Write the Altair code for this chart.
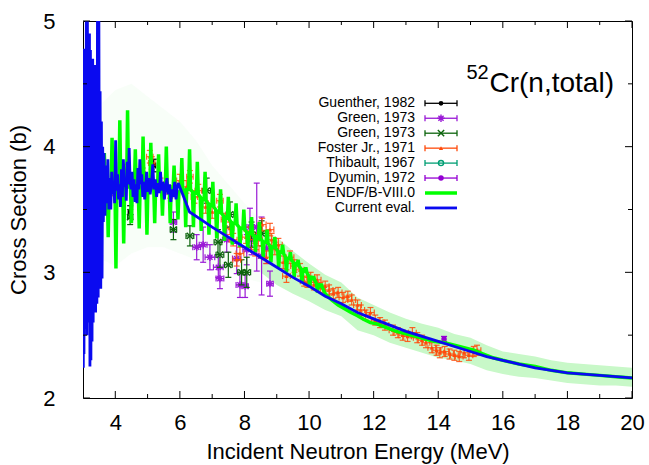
import altair as alt
import pandas as pd

# ---------------- data ----------------
# Current evaluation: fluctuating structure below 6 MeV, smooth above
current_eval = [
    (3.000, 3.60), (3.010, 2.24), (3.020, 4.78), (3.030, 2.35), (3.045, 4.50),
    (3.060, 2.55), (3.075, 4.20), (3.090, 2.70), (3.105, 5.40), (3.120, 2.50),
    (3.135, 5.30), (3.150, 2.90), (3.165, 4.30), (3.180, 2.60), (3.200, 4.90),
    (3.215, 2.25), (3.230, 4.77), (3.245, 2.30), (3.260, 4.55), (3.280, 2.45),
    (3.300, 4.70), (3.315, 2.60), (3.330, 4.00), (3.350, 2.70), (3.370, 4.65),
    (3.390, 2.68), (3.410, 4.40), (3.430, 2.75), (3.450, 5.30), (3.470, 2.80),
    (3.490, 5.20), (3.510, 2.95), (3.530, 4.44), (3.550, 2.87), (3.570, 4.20),
    (3.590, 2.95), (3.610, 4.00), (3.630, 3.40),
    (3.65, 3.95), (3.68, 3.45), (3.71, 3.85), (3.74, 3.55), (3.77, 3.90),
    (3.80, 3.50), (3.83, 3.75), (3.86, 3.50), (3.89, 3.80), (3.92, 3.62),
    (3.95, 3.72), (3.98, 3.55), (4.01, 4.05), (4.04, 3.65), (4.07, 3.78),
    (4.10, 3.58), (4.13, 3.70), (4.16, 3.52), (4.19, 3.82), (4.22, 3.60),
    (4.25, 3.90), (4.28, 3.68), (4.31, 3.75), (4.34, 3.57), (4.37, 3.88),
    (4.40, 3.70), (4.43, 3.99), (4.46, 3.72), (4.49, 3.66), (4.52, 3.80),
    (4.55, 3.60), (4.58, 3.74), (4.61, 3.56), (4.64, 3.70), (4.67, 3.55),
    (4.70, 3.83), (4.73, 3.66), (4.76, 3.90), (4.79, 3.70), (4.82, 3.78),
    (4.85, 3.60), (4.88, 3.72), (4.91, 3.58), (4.94, 3.68), (4.97, 3.80),
    (5.00, 3.64), (5.04, 3.75), (5.08, 3.62), (5.12, 3.70), (5.16, 3.86),
    (5.20, 3.66), (5.24, 3.74), (5.28, 3.60), (5.32, 3.71), (5.36, 3.63),
    (5.40, 3.80), (5.44, 3.65), (5.48, 3.72), (5.52, 3.58), (5.56, 3.68),
    (5.60, 3.75), (5.64, 3.62), (5.68, 3.70), (5.72, 3.56), (5.76, 3.66),
    (5.80, 3.60), (5.84, 3.72), (5.88, 3.58), (5.92, 3.68), (5.95, 3.71),
    (6.30, 3.48), (6.60, 3.43), (7.00, 3.36), (7.50, 3.28), (8.00, 3.20),
    (8.50, 3.12), (9.00, 3.04), (9.50, 2.96), (10.0, 2.89), (10.5, 2.81),
    (11.0, 2.75), (11.5, 2.68), (12.0, 2.63), (12.5, 2.58), (13.0, 2.53),
    (13.5, 2.49), (14.0, 2.45), (14.5, 2.41), (15.0, 2.37), (15.5, 2.33),
    (16.0, 2.30), (16.5, 2.27), (17.0, 2.24), (17.5, 2.22), (18.0, 2.20),
    (18.5, 2.19), (19.0, 2.18), (19.5, 2.17), (20.0, 2.16),
]

# ENDF/B-VIII.0 cross section (sharp structure up to ~10.5 MeV)
endf_eval = [
    (3.60, 3.68),
    (3.63, 3.68), (3.66, 3.95), (3.69, 3.68), (3.75, 3.68), (3.78, 3.28), (3.81, 3.68),
    (3.87, 3.68), (3.90, 4.07), (3.93, 3.68), (3.99, 3.68), (4.02, 3.03), (4.05, 3.68),
    (4.11, 3.68), (4.14, 4.21), (4.17, 3.68), (4.23, 3.68), (4.26, 3.23), (4.29, 3.68),
    (4.35, 3.68), (4.38, 4.29), (4.41, 3.68), (4.47, 3.68), (4.50, 3.39), (4.53, 3.68),
    (4.59, 3.68), (4.62, 3.98), (4.65, 3.68), (4.71, 3.68), (4.74, 3.35), (4.77, 3.68),
    (4.83, 3.68), (4.86, 4.08), (4.89, 3.68), (4.95, 3.68), (4.98, 3.30), (5.01, 3.68),
    (5.07, 3.68), (5.10, 4.03), (5.13, 3.68), (5.19, 3.68), (5.22, 3.39), (5.25, 3.68),
    (5.31, 3.68), (5.34, 3.94), (5.37, 3.68), (5.43, 3.68), (5.46, 3.45), (5.49, 3.68),
    (5.55, 3.68), (5.58, 4.00), (5.61, 3.68), (5.67, 3.68), (5.70, 3.39), (5.73, 3.68),
    (5.79, 3.66), (5.82, 3.85), (5.85, 3.66), (5.91, 3.64), (5.94, 3.42), (5.97, 3.64),
    (6.03, 3.65), (6.06, 3.91), (6.09, 3.65), (6.15, 3.66), (6.18, 3.36), (6.21, 3.66),
    (6.27, 3.66), (6.30, 3.98), (6.33, 3.66), (6.39, 3.64), (6.42, 3.36), (6.45, 3.64),
    (6.51, 3.62), (6.54, 3.88), (6.57, 3.62), (6.63, 3.60), (6.66, 3.33), (6.69, 3.60),
    (6.75, 3.57), (6.78, 3.80), (6.81, 3.57), (6.87, 3.55), (6.90, 3.30), (6.93, 3.55),
    (6.99, 3.52), (7.02, 3.72), (7.05, 3.52), (7.11, 3.50), (7.14, 3.27), (7.17, 3.50),
    (7.23, 3.47), (7.26, 3.66), (7.29, 3.47), (7.35, 3.45), (7.38, 3.25), (7.41, 3.45),
    (7.47, 3.42), (7.50, 3.60), (7.53, 3.42), (7.59, 3.40), (7.62, 3.22), (7.65, 3.40),
    (7.71, 3.38), (7.74, 3.55), (7.77, 3.38), (7.83, 3.36), (7.86, 3.20), (7.89, 3.36),
    (7.95, 3.34), (7.98, 3.50), (8.01, 3.34), (8.07, 3.32), (8.10, 3.18), (8.13, 3.32),
    (8.19, 3.30), (8.22, 3.44), (8.25, 3.30), (8.31, 3.28), (8.34, 3.16), (8.37, 3.28),
    (8.43, 3.27), (8.46, 3.40), (8.49, 3.27), (8.55, 3.25), (8.58, 3.12), (8.61, 3.25),
    (8.67, 3.23), (8.70, 3.34), (8.73, 3.23), (8.79, 3.21), (8.82, 3.08), (8.85, 3.21),
    (8.91, 3.19), (8.94, 3.28), (8.97, 3.19), (9.03, 3.17), (9.06, 3.04), (9.09, 3.17),
    (9.15, 3.15), (9.18, 3.22), (9.21, 3.15), (9.27, 3.12), (9.30, 3.00), (9.33, 3.12),
    (9.39, 3.10), (9.42, 3.16), (9.45, 3.10), (9.51, 3.08), (9.54, 2.96), (9.57, 3.08),
    (9.63, 3.05), (9.66, 3.10), (9.69, 3.05), (9.75, 3.03), (9.78, 2.92), (9.81, 3.03),
    (9.87, 3.00), (9.90, 3.04), (9.93, 3.00), (9.99, 2.97), (10.02, 2.88), (10.05, 2.97),
    (10.11, 2.94), (10.14, 2.97), (10.17, 2.94), (10.23, 2.91), (10.26, 2.84), (10.29, 2.91),
    (10.35, 2.88), (10.38, 2.91), (10.41, 2.88),
    (10.50, 2.83), (10.70, 2.78), (10.90, 2.74), (11.10, 2.71), (11.30, 2.68),
    (11.50, 2.655), (11.70, 2.625), (11.90, 2.60), (12.10, 2.59), (12.40, 2.56),
    (12.70, 2.53), (13.00, 2.51), (13.30, 2.49), (13.60, 2.47), (13.90, 2.45),
    (14.20, 2.44), (14.50, 2.42), (14.80, 2.40), (15.10, 2.38), (15.40, 2.35),
    (15.70, 2.32), (16.00, 2.30), (16.50, 2.27), (17.00, 2.25), (17.50, 2.22),
    (18.00, 2.20), (18.50, 2.19), (19.00, 2.18), (19.50, 2.17), (20.00, 2.16),
]

# ENDF/B-VIII.0 uncertainty band (energy, lower, upper)
endf_band_low_e = [
    (3.6, 3.10, 4.35), (4.0, 3.05, 4.45), (4.5, 3.15, 4.50), (5.0, 3.20, 4.40),
    (5.5, 3.20, 4.30), (6.0, 3.15, 4.20), (6.5, 3.10, 4.05), (7.0, 3.05, 3.85),
    (7.5, 3.00, 3.70), (8.0, 2.95, 3.55), (8.5, 2.92, 3.42),
]
endf_band = [
    (8.5, 3.00, 3.36), (9.0, 2.90, 3.28), (9.5, 2.83, 3.17),
    (10.0, 2.77, 3.07), (10.5, 2.70, 2.98), (11.0, 2.65, 2.92), (11.5, 2.54, 2.80),
    (12.0, 2.50, 2.74), (12.5, 2.44, 2.68), (13.0, 2.40, 2.63), (13.5, 2.36, 2.59),
    (14.0, 2.32, 2.56), (14.5, 2.30, 2.51), (15.0, 2.27, 2.48), (15.5, 2.22, 2.42),
    (16.0, 2.19, 2.37), (16.5, 2.17, 2.35), (17.0, 2.16, 2.33), (17.5, 2.14, 2.30),
    (18.0, 2.12, 2.28), (18.5, 2.11, 2.27), (19.0, 2.10, 2.26), (19.5, 2.10, 2.25),
    (20.0, 2.09, 2.24),
]

# Measurements (energy, cross section, d energy, d cross section)
guenther_1982 = [
    (3.00, 3.61, 0.03, 0.03), (3.20, 3.58, 0.03, 0.03), (3.50, 3.66, 0.03, 0.03),
    (4.46, 3.48, 0.06, 0.05), (5.19, 3.85, 0.06, 0.05),
]
green_1973_a = [
    (3.00, 3.67, 0.05, 0.04), (5.80, 3.40, 0.10, 0.08), (6.52, 3.20, 0.12, 0.10),
    (6.72, 3.22, 0.12, 0.14), (6.93, 3.12, 0.15, 0.10), (7.19, 3.04, 0.15, 0.08),
    (7.24, 2.95, 0.12, 0.08), (7.45, 3.26, 0.13, 0.10), (7.76, 3.11, 0.13, 0.12),
    (7.86, 2.90, 0.12, 0.10), (8.02, 2.89, 0.10, 0.09), (8.07, 3.18, 0.12, 0.12),
    (8.17, 3.36, 0.12, 0.15), (8.22, 3.26, 0.10, 0.12), (8.38, 3.36, 0.10, 0.35),
    (8.53, 3.13, 0.10, 0.31), (8.68, 3.19, 0.10, 0.12), (8.79, 2.91, 0.10, 0.10),
]
green_1973_b = [
    (4.46, 3.44, 0.08, 0.06), (5.80, 3.34, 0.10, 0.08), (6.31, 3.29, 0.12, 0.08),
    (6.83, 3.65, 0.12, 0.10), (7.18, 3.24, 0.12, 0.10), (7.24, 3.14, 0.12, 0.10),
    (7.50, 3.06, 0.12, 0.10), (7.55, 3.46, 0.12, 0.10), (7.91, 3.00, 0.12, 0.10),
    (8.07, 3.00, 0.12, 0.12), (8.22, 3.30, 0.12, 0.10), (8.53, 3.31, 0.12, 0.10),
]
foster_1971 = [
    (3.00, 3.56, 0.05, 0.04), (3.62, 3.88, 0.08, 0.05), (3.95, 3.66, 0.08, 0.05),
    (4.24, 3.81, 0.08, 0.05), (4.55, 3.72, 0.08, 0.05), (4.85, 3.78, 0.08, 0.05),
    (5.07, 3.92, 0.10, 0.05), (5.13, 3.87, 0.10, 0.05), (5.40, 3.70, 0.10, 0.05),
    (5.70, 3.64, 0.10, 0.05), (6.00, 3.73, 0.10, 0.05), (6.20, 3.68, 0.10, 0.05),
    (6.31, 3.76, 0.10, 0.05), (6.45, 3.60, 0.10, 0.05), (6.57, 3.65, 0.10, 0.05),
    (6.80, 3.52, 0.10, 0.05), (7.00, 3.48, 0.10, 0.05), (7.24, 3.57, 0.10, 0.05),
    (7.40, 3.42, 0.12, 0.05), (7.55, 3.35, 0.12, 0.05), (7.65, 3.26, 0.12, 0.05),
    (7.76, 3.10, 0.12, 0.05), (7.86, 3.15, 0.12, 0.05), (8.05, 3.28, 0.12, 0.05),
    (8.17, 3.31, 0.12, 0.05), (8.33, 3.18, 0.12, 0.05), (8.43, 3.26, 0.12, 0.05),
    (8.55, 3.38, 0.12, 0.05), (8.68, 3.12, 0.12, 0.05), (8.79, 3.34, 0.12, 0.05),
    (8.84, 3.26, 0.12, 0.05), (8.94, 3.19, 0.12, 0.05), (9.05, 3.22, 0.12, 0.05),
    (9.20, 3.08, 0.12, 0.05), (9.30, 2.97, 0.12, 0.05), (9.41, 3.12, 0.12, 0.05),
    (9.55, 3.05, 0.12, 0.05), (9.72, 3.02, 0.12, 0.05), (9.85, 2.93, 0.12, 0.04),
    (9.95, 2.92, 0.12, 0.04), (10.05, 2.96, 0.12, 0.04), (10.15, 2.90, 0.12, 0.04),
    (10.25, 2.94, 0.12, 0.04), (10.35, 2.88, 0.12, 0.04), (10.50, 2.89, 0.12, 0.04),
    (10.62, 2.86, 0.12, 0.04), (10.75, 2.83, 0.12, 0.04), (10.90, 2.84, 0.12, 0.04),
    (11.05, 2.80, 0.12, 0.04), (11.20, 2.81, 0.12, 0.04), (11.32, 2.78, 0.12, 0.04),
    (11.50, 2.74, 0.12, 0.04), (11.60, 2.70, 0.12, 0.04), (11.75, 2.66, 0.12, 0.04),
    (11.90, 2.68, 0.12, 0.04), (12.05, 2.62, 0.12, 0.04), (12.20, 2.60, 0.12, 0.04),
    (12.35, 2.58, 0.12, 0.04), (12.60, 2.54, 0.12, 0.04), (12.75, 2.52, 0.12, 0.04),
    (12.90, 2.50, 0.12, 0.04), (13.05, 2.49, 0.12, 0.04), (13.20, 2.52, 0.12, 0.04),
    (13.35, 2.48, 0.12, 0.04), (13.50, 2.46, 0.12, 0.04), (13.62, 2.44, 0.12, 0.04),
    (13.80, 2.40, 0.12, 0.04), (13.95, 2.38, 0.12, 0.04), (14.05, 2.36, 0.12, 0.04),
    (14.20, 2.37, 0.12, 0.04), (14.35, 2.35, 0.12, 0.04), (14.50, 2.34, 0.12, 0.04),
    (14.65, 2.33, 0.12, 0.04), (14.80, 2.36, 0.12, 0.04), (14.95, 2.34, 0.12, 0.04),
    (15.10, 2.37, 0.12, 0.04), (15.20, 2.38, 0.12, 0.04),
]
thibault_1967 = [
    (3.00, 3.48, 0.03, 0.03), (3.15, 3.52, 0.03, 0.03), (3.30, 3.55, 0.03, 0.03),
]
dyumin_1972 = [
    (14.18, 2.47, 0.03, 0.02),
]

x_major = [4, 6, 8, 10, 12, 14, 16, 18, 20]
x_minor = [5, 7, 9, 11, 13, 15, 17, 19]
y_major = [2, 3, 4, 5]
y_minor = [2.5, 3.5, 4.5]

# ---------------- layout ----------------
W, H = 549, 377
FONT = "Liberation Sans"
xs = alt.Scale(domain=[3, 20], nice=False, zero=False)
ys = alt.Scale(domain=[2, 5], nice=False, zero=False)
x_axis = alt.Axis(values=x_major, ticks=False, domain=False, grid=False,
                  labelFont=FONT, labelFontSize=22, labelPadding=14,
                  labelColor="black", labelFlush=False,
                  title="Incident Neutron Energy (MeV)", titleFont=FONT,
                  titleFontSize=22, titleFontWeight="normal", titlePadding=8,
                  titleColor="black")
y_axis = alt.Axis(values=y_major, ticks=False, domain=False, grid=False,
                  format="d", labelFont=FONT, labelFontSize=22, labelPadding=28,
                  labelColor="black", labelFlush=False,
                  title="Cross Section (b)", titleFont=FONT, titleFontSize=22,
                  titleFontWeight="normal", titlePadding=12, titleColor="black")


def X(field):
    return alt.X(field, type="quantitative", scale=xs, axis=x_axis)


def Y(field):
    return alt.Y(field, type="quantitative", scale=ys, axis=y_axis)


layers = []

# uncertainty band of ENDF/B-VIII.0
band_lo = pd.DataFrame(endf_band_low_e, columns=["E", "lo", "hi"])
layers.append(alt.Chart(band_lo).mark_area(color="#c8f5c8", opacity=0.12, clip=True)
              .encode(x=X("E"), y=Y("lo"), y2="hi"))
band = pd.DataFrame(endf_band, columns=["E", "lo", "hi"])
layers.append(alt.Chart(band).mark_area(color="#c8f8c8", clip=True)
              .encode(x=X("E"), y=Y("lo"), y2="hi"))

STAR = "M-1,0L1,0M0,-1L0,1M-0.7,-0.7L0.7,0.7M-0.7,0.7L0.7,-0.7"
XMARK = "M-1,-1L1,1M-1,1L1,-1"

LEG_TEXT_X = 332
LEG_L, LEG_R = 342, 374
LEG_Y0, LEG_DY = 82.3, 14.95


def leg_y(row):
    return LEG_Y0 + LEG_DY * row


one = pd.DataFrame({"k": [0]})


def measurement(points, label, row, color, shape, filled, size, bar_opacity=1.0):
    df = pd.DataFrame(points, columns=["E", "S", "dE", "dS"])
    df["Elo"] = df["E"] - df["dE"]
    df["Ehi"] = df["E"] + df["dE"]
    df["Slo"] = df["S"] - df["dS"]
    df["Shi"] = df["S"] + df["dS"]
    base = alt.Chart(df)
    out = [
        base.mark_rule(color=color, strokeWidth=1.2, opacity=bar_opacity, clip=True)
        .encode(x=X("E"), y=Y("Slo"), y2="Shi"),
        base.mark_rule(color=color, strokeWidth=1.2, opacity=bar_opacity, clip=True)
        .encode(x=X("Elo"), x2="Ehi", y=Y("S")),
    ]
    for yf in ("Slo", "Shi"):
        out.append(base.mark_tick(orient="horizontal", size=6, thickness=1.2,
                                  color=color, opacity=bar_opacity, clip=True)
                   .encode(x=X("E"), y=Y(yf)))
    for xf in ("Elo", "Ehi"):
        out.append(base.mark_tick(orient="vertical", size=6, thickness=1.2,
                                  color=color, opacity=bar_opacity, clip=True)
                   .encode(x=X(xf), y=Y("S")))
    pt = dict(shape=shape, size=size, color=color, filled=filled, opacity=1,
              strokeWidth=1.4, clip=True)
    out.append(base.mark_point(**pt).encode(x=X("E"), y=Y("S")))
    # key entry
    ly = leg_y(row)
    lab = pd.DataFrame({"label": [label]})
    out.append(alt.Chart(lab).mark_text(align="right", baseline="middle", font=FONT,
                                        fontSize=14, color="black")
               .encode(text="label:N", x=alt.value(LEG_TEXT_X), y=alt.value(ly)))
    out.append(alt.Chart(one).mark_rule(color=color, strokeWidth=1.3)
               .encode(x=alt.value(LEG_L), x2=alt.value(LEG_R), y=alt.value(ly)))
    for cx in (LEG_L, LEG_R):
        out.append(alt.Chart(one).mark_rule(color=color, strokeWidth=1.3)
                   .encode(x=alt.value(cx), y=alt.value(ly - 3), y2=alt.value(ly + 3)))
    out.append(alt.Chart(one).mark_point(**{k: v for k, v in pt.items() if k != "clip"})
               .encode(x=alt.value((LEG_L + LEG_R) / 2), y=alt.value(ly)))
    return out


layers += measurement(guenther_1982, "Guenther, 1982", 0, "black", "circle", True, 22)
layers += measurement(green_1973_a, "Green, 1973", 1, "#9a1ad6", STAR, False, 55)
layers += measurement(green_1973_b, "Green, 1973", 2, "#0c640c", XMARK, False, 40)
layers += measurement(foster_1971, "Foster Jr., 1971", 3, "#ff4a0a", "triangle-up", True, 18,
                      bar_opacity=0.85)
layers += measurement(thibault_1967, "Thibault, 1967", 4, "#009e73", "circle", False, 26)
layers += measurement(dyumin_1972, "Dyumin, 1972", 5, "#9400d3", "circle", True, 30)


def evaluation(points, label, row, color, width):
    df = pd.DataFrame(points, columns=["E", "S"])
    ly = leg_y(row)
    lab = pd.DataFrame({"label": [label]})
    return [
        alt.Chart(df).mark_line(color=color, strokeWidth=width, clip=True,
                                strokeJoin="miter", strokeMiterLimit=2)
        .encode(x=X("E"), y=Y("S"), order="E:Q"),
        alt.Chart(lab).mark_text(align="right", baseline="middle", font=FONT,
                                 fontSize=14, color="black")
        .encode(text="label:N", x=alt.value(LEG_TEXT_X), y=alt.value(ly)),
        alt.Chart(one).mark_rule(color=color, strokeWidth=width)
        .encode(x=alt.value(LEG_L), x2=alt.value(LEG_R), y=alt.value(ly)),
    ]


layers += evaluation(endf_eval, "ENDF/B-VIII.0", 6, "#00ff00", 3.5)
layers += evaluation(current_eval, "Current eval.", 7, "#0a0af0", 2.8)

# inward tick marks on all four sides
for t_df, L in ((pd.DataFrame({"t": x_major}), 7), (pd.DataFrame({"t": x_minor}), 4)):
    layers.append(alt.Chart(t_df).mark_rule(color="black", strokeWidth=1)
                  .encode(x=X("t"), y=alt.value(H), y2=alt.value(H - L)))
    layers.append(alt.Chart(t_df).mark_rule(color="black", strokeWidth=1)
                  .encode(x=X("t"), y=alt.value(0), y2=alt.value(L)))
for t_df, L in ((pd.DataFrame({"t": y_major}), 7), (pd.DataFrame({"t": y_minor}), 4)):
    layers.append(alt.Chart(t_df).mark_rule(color="black", strokeWidth=1)
                  .encode(y=Y("t"), x=alt.value(0), x2=alt.value(L)))
    layers.append(alt.Chart(t_df).mark_rule(color="black", strokeWidth=1)
                  .encode(y=Y("t"), x=alt.value(W), x2=alt.value(W - L)))

# reaction label with superscript mass number
layers.append(alt.Chart(pd.DataFrame({"s": ["52"]})).mark_text(
    align="left", baseline="alphabetic", font=FONT, fontSize=20, color="black")
    .encode(text="s:N", x=alt.value(383.5), y=alt.value(57.5)))
layers.append(alt.Chart(pd.DataFrame({"s": ["Cr(n,total)"]})).mark_text(
    align="left", baseline="alphabetic", font=FONT, fontSize=28, color="black")
    .encode(text="s:N", x=alt.value(406.5), y=alt.value(71)))

chart = (
    alt.layer(*layers)
    .properties(width=W, height=H, autosize="none",
                padding={"left": 83, "top": 21, "right": 17, "bottom": 67},
                background="white")
    .configure_view(stroke="black", strokeWidth=1)
)

chart.save("out.html", embed_options={"renderer": "svg", "actions": False})
